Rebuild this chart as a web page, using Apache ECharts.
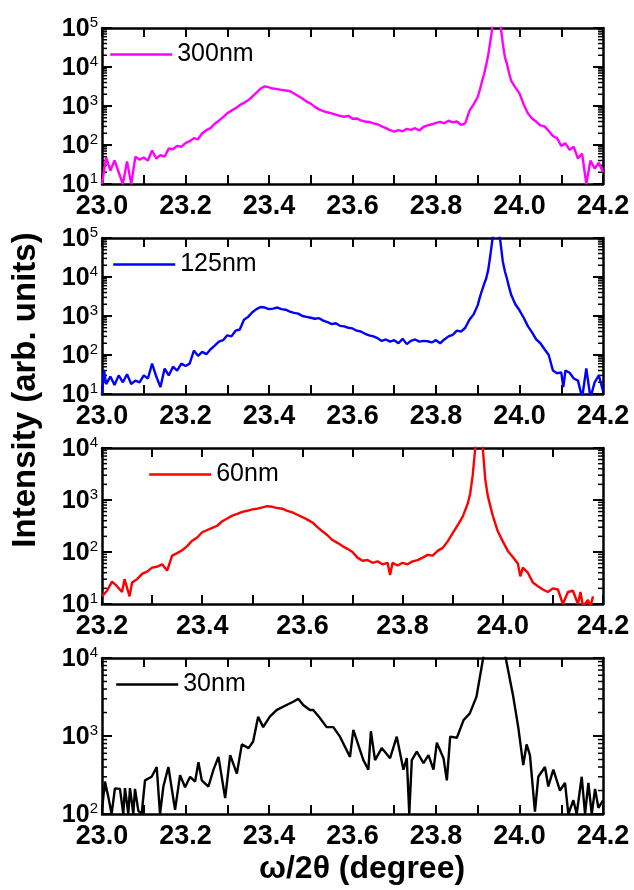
<!DOCTYPE html>
<html>
<head>
<meta charset="utf-8">
<script src="https://cdn.jsdelivr.net/npm/echarts@6/dist/echarts.min.js"></script>
<style>
html, body { margin: 0; padding: 0; background: #fff; }
#chart { width: 634px; height: 890px; }
</style>
</head>
<body>
<div id="chart"></div>
<script>
// 300nm film
const x300 = [23.00,23.01,23.02,23.03,23.04,23.05,23.06,23.07,23.08,23.09,23.10,23.11,23.12,23.13,23.14,23.15,23.16,23.17,23.18,23.19,
  23.20,23.21,23.22,23.23,23.24,23.25,23.26,23.27,23.28,23.29,23.30,23.31,23.32,23.33,23.34,23.35,23.36,23.37,23.38,23.39,
  23.40,23.41,23.42,23.43,23.44,23.45,23.46,23.47,23.48,23.49,23.50,23.51,23.52,23.53,23.54,23.55,23.56,23.57,23.58,23.59,
  23.60,23.61,23.62,23.63,23.64,23.65,23.66,23.67,23.68,23.69,23.70,23.71,23.72,23.73,23.74,23.75,23.76,23.77,23.78,23.79,
  23.80,23.81,23.82,23.83,23.84,23.85,23.86,23.87,23.88,23.89,23.90,23.905,23.91,23.915,23.92,23.925,23.93,23.935,23.94,23.945,
  23.95,23.955,23.96,23.965,23.97,23.975,23.98,23.99,24.00,24.01,24.02,24.03,24.04,24.05,24.06,24.07,24.08,24.09,
  24.10,24.11,24.12,24.13,24.14,24.15,24.16,24.17,24.18,24.19,24.20];
const y300 = [10,48,22,40,20,10,38,10,50,42,48,40,72,45,55,50,82,78,95,90,
  112,125,150,140,200,240,270,350,420,520,650,760,880,1050,1200,1400,1750,2200,2800,3200,
  3000,2800,2700,2600,2500,2400,2100,1800,1550,1300,1150,950,820,740,690,650,600,560,530,560,
  470,480,430,400,390,360,340,300,270,240,220,240,225,260,245,270,235,290,320,340,
  370,390,360,420,380,400,330,360,750,1100,1700,2600,4200,6500,11000,20000,45000,100000,200000,300000,
  200000,110000,40000,18000,12000,7000,4500,3000,2100,1100,650,480,400,320,300,230,170,150,
  95,110,75,90,45,60,10,40,25,35,20];

// 125nm film
const x125 = [23.00,23.005,23.01,23.02,23.03,23.04,23.05,23.06,23.07,23.08,23.09,23.10,23.11,23.12,23.13,23.14,23.15,23.16,23.17,23.18,23.19,
  23.20,23.21,23.22,23.23,23.24,23.25,23.26,23.27,23.28,23.29,23.30,23.31,23.32,23.33,23.34,23.35,23.36,23.37,23.38,23.39,
  23.40,23.41,23.42,23.43,23.44,23.45,23.46,23.47,23.48,23.49,23.50,23.51,23.52,23.53,23.54,23.55,23.56,23.57,23.58,23.59,
  23.60,23.61,23.62,23.63,23.64,23.65,23.66,23.67,23.68,23.69,23.70,23.71,23.72,23.73,23.74,23.75,23.76,23.77,23.78,23.79,
  23.80,23.81,23.82,23.83,23.84,23.85,23.86,23.87,23.88,23.89,23.90,23.905,23.91,23.915,23.92,23.925,23.93,23.935,23.94,23.945,
  23.95,23.955,23.96,23.965,23.97,23.975,23.98,23.99,24.00,24.01,24.02,24.03,24.04,24.05,24.06,24.07,24.08,24.09,
  24.10,24.105,24.11,24.12,24.13,24.14,24.15,24.16,24.17,24.18,24.19,24.20];
const y125 = [10,40,18,28,17,30,20,32,18,22,20,30,25,60,28,15,45,30,50,40,60,
  52,60,130,95,120,105,140,175,220,240,320,300,420,450,800,950,1250,1500,1700,1650,
  1500,1550,1650,1500,1450,1300,1200,1150,1000,950,900,850,880,760,700,620,650,560,540,500,
  480,420,400,350,320,300,270,230,250,220,240,200,260,190,230,250,220,230,225,210,
  240,200,250,300,330,420,400,500,800,1100,1900,3000,4500,6500,9000,15000,35000,90000,200000,300000,
  180000,70000,25000,14000,9000,5500,3500,2000,1400,900,550,380,250,200,140,100,40,34,
  36,15,40,35,25,22,8,45,8,20,30,12];

// 60nm film
const x60 = [23.20,23.21,23.22,23.23,23.24,23.245,23.255,23.26,23.27,23.28,23.29,23.30,23.31,23.32,23.33,23.34,23.35,23.36,23.37,23.38,23.39,
  23.40,23.41,23.42,23.43,23.44,23.45,23.46,23.47,23.48,23.49,23.50,23.51,23.52,23.53,23.54,23.55,23.56,23.57,23.58,23.59,
  23.60,23.61,23.62,23.63,23.64,23.65,23.66,23.67,23.68,23.69,23.70,23.71,23.72,23.73,23.74,23.75,23.76,23.77,23.775,23.78,23.79,
  23.80,23.81,23.82,23.83,23.84,23.85,23.86,23.87,23.88,23.89,23.90,23.91,23.92,23.93,23.935,23.94,23.945,
  23.95,23.955,23.96,23.965,23.97,23.98,23.99,24.00,24.01,24.02,24.03,24.035,24.04,24.05,24.06,24.07,24.08,24.09,
  24.10,24.11,24.12,24.13,24.14,24.15,24.155,24.16,24.17,24.175,24.18];
const y60 = [14,18,27,22,17,30,14,26,30,38,42,50,52,58,44,85,95,108,130,165,190,
  240,265,290,320,390,440,500,540,590,620,660,680,720,760,740,700,680,620,580,520,
  470,420,370,300,250,210,170,150,130,115,100,78,68,70,62,66,58,62,36,62,55,
  62,58,66,70,78,88,85,105,120,160,230,330,480,850,1350,3000,10000,
  40000,40000,10000,2500,1200,500,250,160,105,80,60,34,50,40,26,22,19,17,
  20,19,10,17,18,10,17,9,12,9,14];

// 30nm film
const x30 = [23.000,23.007,23.015,23.023,23.031,23.043,23.051,23.055,23.063,23.067,23.075,23.079,23.087,23.095,23.103,23.119,23.131,23.139,23.147,23.159,
  23.175,23.187,23.199,23.211,23.223,23.231,23.239,23.255,23.267,23.279,23.295,23.307,23.323,23.335,23.351,23.362,23.374,23.386,23.402,23.418,
  23.442,23.458,23.470,23.482,23.498,23.506,23.522,23.538,23.554,23.570,23.594,23.602,23.626,23.638,23.644,23.654,23.670,23.690,23.706,23.722,
  23.730,23.736,23.742,23.754,23.770,23.782,23.794,23.802,23.818,23.826,23.834,23.850,23.866,23.881,23.897,23.913,23.925,23.940,23.955,23.967,
  23.985,23.997,24.009,24.017,24.025,24.037,24.045,24.061,24.069,24.081,24.097,24.109,24.117,24.129,24.137,24.149,24.157,24.165,24.173,24.181,
  24.189,24.200];
const y30 = [113,260,167,100,213,210,100,215,100,215,100,210,110,100,270,300,400,100,225,400,
  113,315,220,300,260,460,270,225,370,540,160,570,330,780,700,850,1770,1300,1770,2150,
  2500,2750,3000,2500,2150,2150,1700,1300,1300,980,540,1200,490,370,1150,490,700,520,980,370,
  520,100,490,630,450,570,370,820,520,270,980,950,1600,1950,3200,10000,25000,50000,25000,10000,
  3200,1300,425,780,570,107,300,400,225,370,200,250,100,150,100,300,100,250,100,210,
  120,150];

const FONT = "'Liberation Sans', Arial, sans-serif";
const pairs = (xs, ys) => xs.map((x, i) => [x, ys[i]]);

const panels = [
  { name: '300nm', color: '#ff00ff', data: pairs(x300, y300), xMin: 23.0, xMax: 24.2, yMin: 1e1, yMax: 1e5, top: 28, legendLeft: 109 },
  { name: '125nm', color: '#0000ff', data: pairs(x125, y125), xMin: 23.0, xMax: 24.2, yMin: 1e1, yMax: 1e5, top: 238, legendLeft: 112 },
  { name: '60nm', color: '#ff0000', data: pairs(x60, y60), xMin: 23.2, xMax: 24.2, yMin: 1e1, yMax: 1e4, top: 448, legendLeft: 148 },
  { name: '30nm', color: '#000000', data: pairs(x30, y30), xMin: 23.0, xMax: 24.2, yMin: 1e2, yMax: 1e4, top: 658, legendLeft: 115 }
];

// log minor ticks 2..9 per decade
function minorValues(yMin, yMax, xMin) {
  const out = [];
  for (let e = Math.round(Math.log10(yMin)); e < Math.round(Math.log10(yMax)); e++) {
    for (let k = 2; k <= 9; k++) out.push([xMin, k * Math.pow(10, e)]);
  }
  return out;
}

const axisLine = { onZero: false, lineStyle: { color: '#000', width: 2.5 } };
const grid = [], xAxis = [], yAxis = [], series = [], legend = [];

panels.forEach((p, i) => {
  grid.push({ left: 102, width: 501, top: p.top, height: 156 });

  const xBase = {
    gridIndex: i, type: 'value', min: p.xMin, max: p.xMax, interval: 0.1,
    axisLine: axisLine, splitLine: { show: false },
    axisTick: { inside: true, length: 9, lineStyle: { color: '#000', width: 2 } }
  };
  xAxis.push(Object.assign({}, xBase, {
    position: 'bottom',
    axisLabel: {
      margin: 9, color: '#000', fontSize: 27, fontWeight: 'bold', fontFamily: FONT,
      formatter: v => (Math.round(v * 10) % 2 === 0 ? v.toFixed(1) : '')
    }
  }));
  xAxis.push(Object.assign({}, xBase, { position: 'top', axisLabel: { show: false } }));

  const yBase = {
    gridIndex: i, type: 'log', logBase: 10, min: p.yMin, max: p.yMax,
    axisLine: axisLine, splitLine: { show: false }, minorTick: { show: false },
    axisTick: { inside: true, length: 10, lineStyle: { color: '#000', width: 2 } }
  };
  yAxis.push(Object.assign({}, yBase, {
    position: 'left',
    axisLabel: {
      margin: 4, padding: [2, 0, 0, 0],
      formatter: v => '{b|10}{s|' + Math.round(Math.log10(v)) + '}',
      rich: {
        b: { fontSize: 25, fontWeight: 'bold', fontFamily: FONT, color: '#000', lineHeight: 28 },
        s: { fontSize: 15, fontFamily: FONT, color: '#000', verticalAlign: 'top', lineHeight: 15 }
      }
    }
  }));
  yAxis.push(Object.assign({}, yBase, { position: 'right', axisLabel: { show: false } }));

  series.push({
    name: p.name, type: 'line', xAxisIndex: i * 2, yAxisIndex: i * 2,
    data: p.data, symbol: 'none', showSymbol: false, clip: true,
    lineStyle: { color: p.color, width: 2.4 }, itemStyle: { color: p.color }
  });

  series.push({
    type: 'custom', xAxisIndex: i * 2, yAxisIndex: i * 2, silent: true,
    data: minorValues(p.yMin, p.yMax, p.xMin),
    renderItem: (params, api) => {
      const v = api.value(1);
      const l = api.coord([p.xMin, v]);
      const r = api.coord([p.xMax, v]);
      const st = { stroke: '#000', lineWidth: 1.5 };
      return {
        type: 'group', children: [
          { type: 'line', shape: { x1: l[0], y1: l[1], x2: l[0] + 5, y2: l[1] }, style: st },
          { type: 'line', shape: { x1: r[0] - 5, y1: r[1], x2: r[0], y2: r[1] }, style: st }
        ]
      };
    }
  });

  legend.push({
    data: [p.name], left: p.legendLeft, top: p.top + 14, padding: 0,
    itemWidth: 62, itemHeight: 14, selectedMode: false,
    itemStyle: { opacity: 0 },
    lineStyle: { width: 2.4 },
    textStyle: { fontSize: 25, color: '#000', fontFamily: FONT }
  });
});

const chart = echarts.init(document.getElementById('chart'));
chart.setOption({
  animation: false,
  backgroundColor: '#fff',
  grid: grid,
  xAxis: xAxis,
  yAxis: yAxis,
  legend: legend,
  series: series,
  graphic: [
    {
      type: 'text', x: 26, y: 390, rotation: Math.PI / 2,
      style: { text: 'Intensity (arb. units)', font: 'bold 33px ' + FONT, fill: '#000', textAlign: 'center', textVerticalAlign: 'middle' }
    },
    {
      type: 'text', x: 362, y: 869,
      style: { text: 'ω/2θ (degree)', font: 'bold 32px ' + FONT, fill: '#000', textAlign: 'center', textVerticalAlign: 'middle' }
    }
  ]
});
</script>
</body>
</html>
